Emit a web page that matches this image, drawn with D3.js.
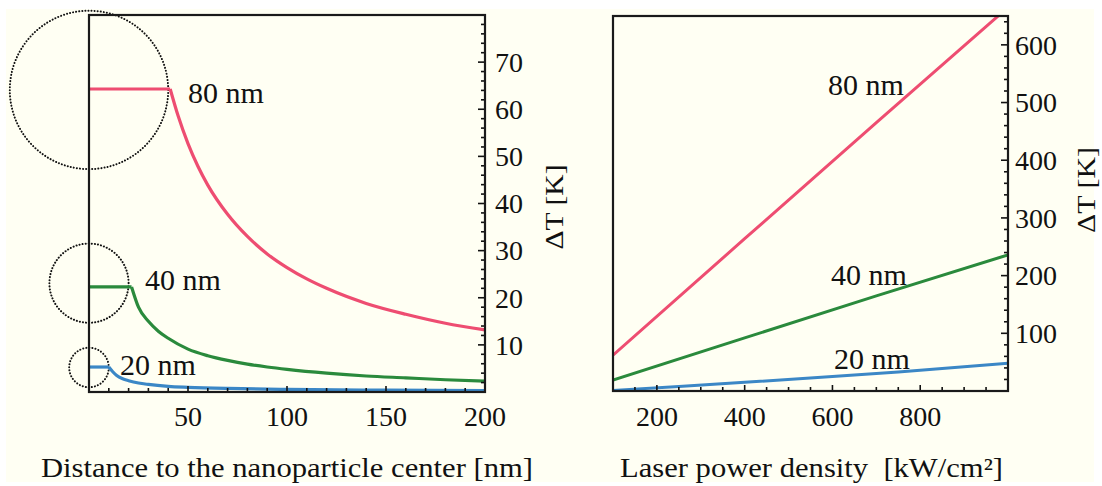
<!DOCTYPE html>
<html><head><meta charset="utf-8">
<script src="https://cdn.jsdelivr.net/npm/d3@7"></script>
<style>
html,body{margin:0;padding:0;background:#fff;}
svg{display:block;}
</style></head>
<body><svg id="c" width="1102" height="486"></svg>
<script>
// ---- Data ----
// Left panel: temperature rise vs distance from nanoparticle center
const dist80 = [0, 41, 45, 50, 55, 60, 70, 80, 90, 100, 110, 120, 140, 160, 180, 200];
const temp80 = [64.3, 64.3, 58.6, 52.7, 47.9, 43.9, 37.7, 33.0, 29.3, 26.4, 24.0, 22.0, 18.8, 16.5, 14.6, 13.2];
const dist40 = [0, 21.5, 25, 30, 35, 40, 50, 60, 70, 80, 90, 100, 120, 140, 160, 180, 200];
const temp40 = [22.3, 22.3, 18.0, 15.0, 12.9, 11.4, 9.1, 7.7, 6.7, 5.9, 5.3, 4.8, 4.0, 3.4, 3.0, 2.6, 2.3];
const dist20 = [0, 10, 12, 14, 17, 20, 25, 30, 40, 50, 70, 100, 150, 200];
const temp20 = [5.3, 5.3, 4.3, 3.5, 2.8, 2.4, 1.9, 1.6, 1.2, 1.0, 0.75, 0.55, 0.4, 0.3];
const particleLabels = ["80 nm", "40 nm", "20 nm"];
const particleRadii = [40, 20, 10];          // nm
const circleCenterTemp = [64.1, 23.1, 5.2];  // K
const leftXTicks = [50, 100, 150, 200];
const leftYTicks = [10, 20, 30, 40, 50, 60, 70];

// Right panel: temperature rise vs laser power density
const power80 = [100, 400, 700, 1000];
const rise80 = [62, 264, 465, 665];
const power40 = [100, 400, 700, 1000];
const rise40 = [19, 92, 165, 236];
const power20 = [100, 250, 400, 600, 750, 1000];
const rise20 = [1, 8, 15, 25, 33, 48];
const rightXTicks = [200, 400, 600, 800];
const rightYTicks = [100, 200, 300, 400, 500, 600];

const colors = ["#EE4D71", "#2A8A3C", "#3B87C6"];
const FONT = "'Times New Roman', 'Liberation Serif', Times, serif";

// ---- Drawing ----
const svg = d3.select("#c");
svg.append("rect").attr("x", 6).attr("y", 9).attr("width", 1088).attr("height", 473).attr("fill", "#FFFFF3");

const L = {x0: 89, x1: 485, y0: 15, y1: 392};
const R = {x0: 613, x1: 1008, y0: 16, y1: 391};

const xL = d3.scaleLinear().domain([0, 200]).range([L.x0, L.x1]);
const yL = d3.scaleLinear().domain([0, 80]).range([L.y1, L.y0]);
const xR = d3.scaleLinear().domain([100, 1000]).range([R.x0, R.x1]);
const yR = d3.scaleLinear().domain([0, 650]).range([R.y1, R.y0]);

const defs = svg.append("defs");
defs.append("clipPath").attr("id", "clipR").append("rect")
  .attr("x", R.x0).attr("y", R.y0).attr("width", R.x1 - R.x0).attr("height", R.y1 - R.y0);

// Dotted circles (particle sizes)
particleRadii.forEach((r, i) => {
  svg.append("circle")
    .attr("cx", xL(0)).attr("cy", yL(circleCenterTemp[i]))
    .attr("r", xL(r) - xL(0))
    .attr("fill", "none").attr("stroke", "#111").attr("stroke-width", 2)
    .attr("stroke-dasharray", "0.1,3").attr("stroke-linecap", "round");
});

// Left curves: flat part (inside particle) + decay
const leftSeries = [[dist80, temp80], [dist40, temp40], [dist20, temp20]];
leftSeries.forEach(([xs, ys], i) => {
  const pts = xs.map((d, k) => [d, ys[k]]);
  svg.append("path").datum(pts.slice(0, 2))
    .attr("d", d3.line().x(d => xL(d[0])).y(d => yL(d[1])))
    .attr("fill", "none").attr("stroke", colors[i]).attr("stroke-width", 3.2);
  svg.append("path").datum(pts.slice(1))
    .attr("d", d3.line().x(d => xL(d[0])).y(d => yL(d[1])).curve(d3.curveMonotoneX))
    .attr("fill", "none").attr("stroke", colors[i]).attr("stroke-width", 3.2)
    .attr("stroke-linejoin", "round");
});

// Right lines
const rightSeries = [[power80, rise80], [power40, rise40], [power20, rise20]];
rightSeries.forEach(([xs, ys], i) => {
  svg.append("path").datum(xs.map((d, k) => [d, ys[k]]))
    .attr("clip-path", "url(#clipR)")
    .attr("d", d3.line().x(d => xR(d[0])).y(d => yR(d[1])))
    .attr("fill", "none").attr("stroke", colors[i]).attr("stroke-width", 3);
});

// Ticks helper
function ticks(g, vals, fn) {
  vals.forEach(v => {
    const [x1, y1, x2, y2] = fn(v);
    g.append("line").attr("x1", x1).attr("y1", y1).attr("x2", x2).attr("y2", y2)
      .attr("stroke", "#111").attr("stroke-width", 1.6);
  });
}
const tg = svg.append("g");
ticks(tg, d3.range(10, 200, 10), (v) => [xL(v), L.y1, xL(v), L.y1 - (v % 50 === 0 ? 6 : 4)]);
ticks(tg, d3.range(2, 80, 2), (v) => [L.x1, yL(v), L.x1 - (v % 10 === 0 ? 7 : 4), yL(v)]);
ticks(tg, d3.range(150, 1000, 50), (v) => [xR(v), R.y1, xR(v), R.y1 - (v % 200 === 0 ? 6 : 4)]);
ticks(tg, d3.range(20, 650, 20), (v) => [R.x1, yR(v), R.x1 - (v % 100 === 0 ? 7 : 4), yR(v)]);

// Frames
[L, R].forEach(p => {
  svg.append("rect").attr("x", p.x0).attr("y", p.y0).attr("width", p.x1 - p.x0).attr("height", p.y1 - p.y0)
    .attr("fill", "none").attr("stroke", "#1a1a1a").attr("stroke-width", 2.2);
});

function txt() {
  return svg.append("text").attr("font-family", FONT).attr("fill", "#111");
}

// Tick labels
const fs = 28;
leftXTicks.forEach(v => txt().attr("x", xL(v)).attr("y", 426)
  .attr("text-anchor", "middle").attr("font-size", fs).text(v));
leftYTicks.forEach(v => txt().attr("x", 495).attr("y", yL(v)).attr("dy", "0.35em")
  .attr("font-size", fs).text(v));
rightXTicks.forEach(v => txt().attr("x", xR(v)).attr("y", 426)
  .attr("text-anchor", "middle").attr("font-size", fs).text(v));
rightYTicks.forEach(v => txt().attr("x", 1015).attr("y", yR(v)).attr("dy", "0.35em")
  .attr("font-size", fs).text(v));

// Axis titles
function rotTitle(x, y, len) {
  txt().attr("transform", `translate(${x},${y}) rotate(-90)`)
    .attr("text-anchor", "middle").attr("dy", "0.33em").attr("font-size", 26)
    .attr("textLength", len).attr("lengthAdjust", "spacingAndGlyphs").text("ΔT [K]");
}
rotTitle(554, 207, 85);
rotTitle(1086, 190, 86);
txt().attr("x", 41).attr("y", 477).attr("font-size", 27)
  .attr("textLength", 492).attr("lengthAdjust", "spacingAndGlyphs")
  .text("Distance to the nanoparticle center [nm]");
txt().attr("x", 620).attr("y", 477).attr("font-size", 27)
  .style("white-space", "pre")
  .attr("textLength", 383).attr("lengthAdjust", "spacingAndGlyphs")
  .text("Laser power density  [kW/cm²]");

// Series labels
const leftLabelPos = [[188, 103], [145, 290], [120, 375]];
const rightLabelPos = [[828, 95], [831, 285], [834, 369]];
particleLabels.forEach((t, i) => {
  txt().attr("x", leftLabelPos[i][0]).attr("y", leftLabelPos[i][1])
    .attr("font-size", 30).text(t);
  txt().attr("x", rightLabelPos[i][0]).attr("y", rightLabelPos[i][1])
    .attr("font-size", 30).text(t);
});
</script></body></html>
